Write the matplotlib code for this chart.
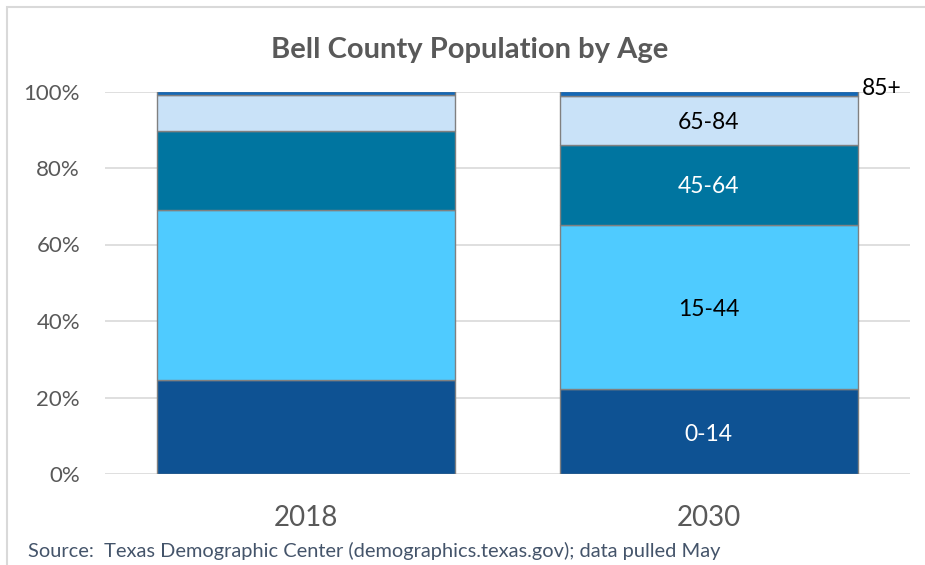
import matplotlib
matplotlib.use("Agg")
import matplotlib.pyplot as plt
import numpy as np

plt.rcParams['font.family'] = ['Lato', 'DejaVu Sans']

years = ["2018", "2030"]
groups = ["0-14", "15-44", "45-64", "65-84", "85+"]
shares = {
    "0-14":  [24.6, 22.1],
    "15-44": [44.4, 43.1],
    "45-64": [20.8, 20.9],
    "65-84": [9.2, 12.7],
    "85+":   [1.0, 1.2],
}
colors = {
    "0-14": "#0E5293",
    "15-44": "#4FCBFF",
    "45-64": "#0075A0",
    "65-84": "#C9E2F8",
    "85+": "#1468B6",
}
label_colors = {"0-14": "white", "15-44": "black", "45-64": "white", "65-84": "black", "85+": "black"}

fig = plt.figure(figsize=(9.25, 5.65), dpi=100)
ax = fig.add_axes([105/925, 1-474/565, 805/925, (474-91.5)/565])

x = np.arange(len(years))
bottom = np.zeros(len(years))
for g in groups:
    vals = np.array(shares[g])
    ax.bar(x, vals, bottom=bottom, width=0.74, color=colors[g], edgecolor="#808080",
           linewidth=1.0, zorder=3)
    # labels only on the 2030 bar
    i = 1
    if g == "85+":
        ax.text(x[i] + 0.37 + 0.01, bottom[i] + vals[i] + 0.8, g, ha="left", va="center",
                fontsize=16.5, color=label_colors[g])
    else:
        ax.text(x[i], bottom[i] + vals[i] / 2 - 0.6, g, ha="center", va="center",
                fontsize=16.5, color=label_colors[g])
    bottom += vals

ax.set_xlim(-0.5, 1.5)
ax.set_ylim(0, 100)
ax.set_yticks(np.arange(0, 101, 20))
ax.set_yticklabels([f"{v}%" for v in range(0, 101, 20)])
ax.set_xticks(x)
ax.set_xticklabels(years)
ax.tick_params(axis="y", length=0, labelsize=16, labelcolor="#595959", pad=18)
ax.tick_params(axis="x", length=0, labelsize=20, labelcolor="#595959", pad=22)
ax.yaxis.grid(True, color="#D9D9D9", linewidth=1.2, zorder=0)
for s in ax.spines.values():
    s.set_visible(False)

fig.text(470/925, 1 - 50/565, "Bell County Population by Age", ha="center", va="center",
         fontsize=21, fontweight="bold", color="#595959")
fig.text(28/925, 1 - 551/565, "Source:  Texas Demographic Center (demographics.texas.gov); data pulled May",
         ha="left", va="center", fontsize=14.4, color="#44546A")

# chart frame
fig.patches.append(plt.Rectangle((7/925, -0.1), 1.0, 1 - 7/565 + 0.1, transform=fig.transFigure,
                                 fill=False, edgecolor="#D9D9D9", linewidth=1.5))

fig.savefig("out.png", dpi=100)
